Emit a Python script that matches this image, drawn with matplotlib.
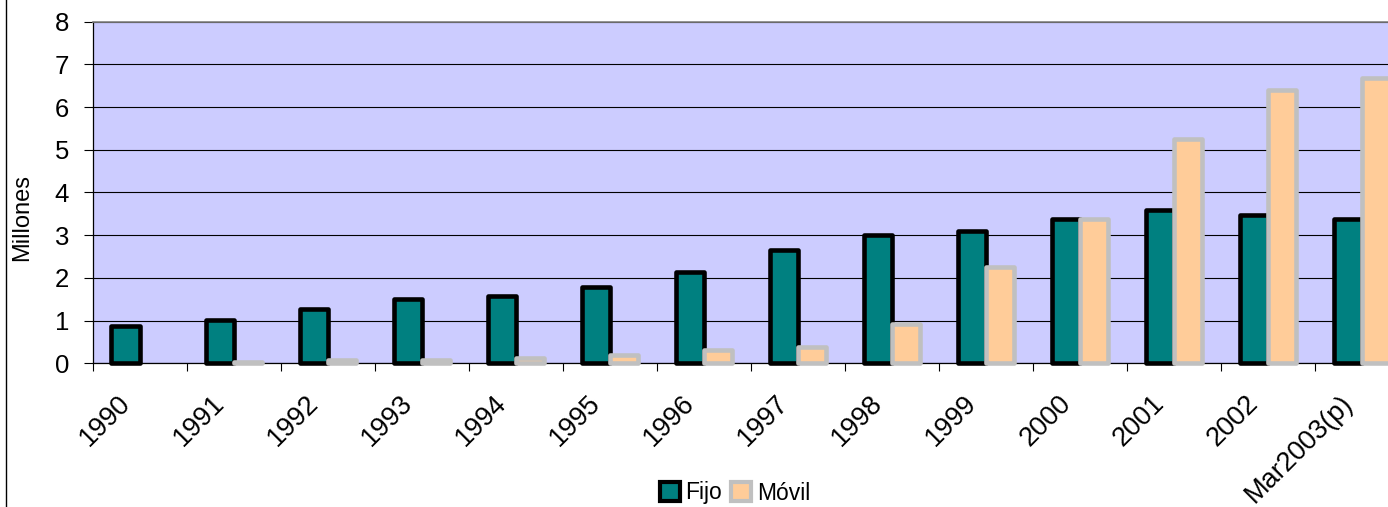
#!/usr/bin/env python3
from __future__ import annotations

import numpy as np
import matplotlib
matplotlib.use("Agg")
import matplotlib.pyplot as plt
from matplotlib.lines import Line2D
from matplotlib.patches import Patch
from matplotlib.transforms import ScaledTranslation


# ---------------------------------------------------------------------
# Data (millions of lines)
# ---------------------------------------------------------------------

years = ["1990", "1991", "1992", "1993", "1994", "1995", "1996",
	"1997", "1998", "1999", "2000", "2001", "2002", "Mar2003(p)"]
fijo = [0.87, 1.02, 1.26, 1.50, 1.58, 1.78, 2.13, 2.65, 3.01, 3.09, 3.37, 3.58, 3.47, 3.37]
movil = [np.nan, 0.04, 0.07, 0.08, 0.12, 0.19, 0.31, 0.38, 0.93, 2.26, 3.37, 5.26, 6.41, 6.69]
series_names = ["Fijo", "Móvil"]

FONT = ["Liberation Sans", "DejaVu Sans"]


def draw_bars(ax, x, values, offset, face, edge):
	bars = ax.bar(x + offset, values, width=0.30, color=face, edgecolor=edge,
		linewidth=3.3, zorder=3)
	for b in bars:
		b.set_clip_on(False)
		b.set_joinstyle("round")
	return bars


def main():
	plt.rcParams["font.family"] = FONT

	W, H = 1388, 507
	fig = plt.figure(figsize=(W / 100, H / 100), dpi=100)

	# plot area runs past the right edge of the picture (cropped in the source)
	left, top, bottom = 92.7, 21.7, 363.3
	cat_w = 94.0
	ax = fig.add_axes([left / W, 1 - bottom / H, cat_w * len(years) / W, (bottom - top) / H])
	ax.set_facecolor("#CCCCFF")

	x = np.arange(len(years))
	draw_bars(ax, x, fijo, -0.15, "#008080", "black")
	draw_bars(ax, x, movil, 0.15, "#FFCC99", "#C0C0C0")

	ax.set_xlim(-0.5, len(years) - 0.5)
	ax.set_ylim(0, 8)
	ax.set_yticks(range(0, 9))
	ax.tick_params(axis="y", direction="out", length=6.5, width=0.8, pad=10.5, labelsize=18.5)
	ax.yaxis.grid(True, color="black", linewidth=0.8, zorder=1)
	ax.set_axisbelow(True)

	# ticks between categories, labels at category centres
	ax.set_xticks(np.arange(-0.5, len(years), 1.0))
	ax.set_xticklabels([])
	ax.tick_params(axis="x", which="major", direction="out", length=6, width=0.8)
	ax.set_xticks(x, minor=True)
	ax.set_xticklabels(years, minor=True, rotation=45, ha="right",
		va="center", rotation_mode="anchor", fontsize=19.5)
	ax.tick_params(axis="x", which="minor", length=0, pad=26)
	shift = ScaledTranslation(-13 / 100, 0, fig.dpi_scale_trans)
	for lab in ax.get_xticklabels(minor=True):
		lab.set_transform(lab.get_transform() + shift)

	for side in ("left", "bottom"):
		ax.spines[side].set_color("black")
		ax.spines[side].set_linewidth(0.9)
	ax.spines["top"].set_color("#808080")
	ax.spines["top"].set_linewidth(1.2)
	ax.spines["right"].set_visible(False)

	fig.text(22.5 / W, 1 - 217.5 / H, "Millones", rotation=90, ha="center",
		va="center", fontsize=17)

	handles = [
		Patch(facecolor="#008080", edgecolor="black", linewidth=3.0),
		Patch(facecolor="#FFCC99", edgecolor="#C0C0C0", linewidth=3.0),
	]
	fig.legend(handles, series_names, loc="center", bbox_to_anchor=(735 / W, 1 - 493 / H),
		ncol=2, frameon=False, fontsize=16.5, handlelength=0.87, handleheight=0.87,
		handletextpad=0.25, columnspacing=0.4, borderpad=0.0)

	# outer chart frame, only its left edge is inside the picture
	fig.add_artist(Line2D([5.5 / W, 5.5 / W], [0, 1], color="black", linewidth=1.0,
		transform=fig.transFigure))

	fig.savefig("out.png", dpi=100)


if __name__ == "__main__":
	main()
